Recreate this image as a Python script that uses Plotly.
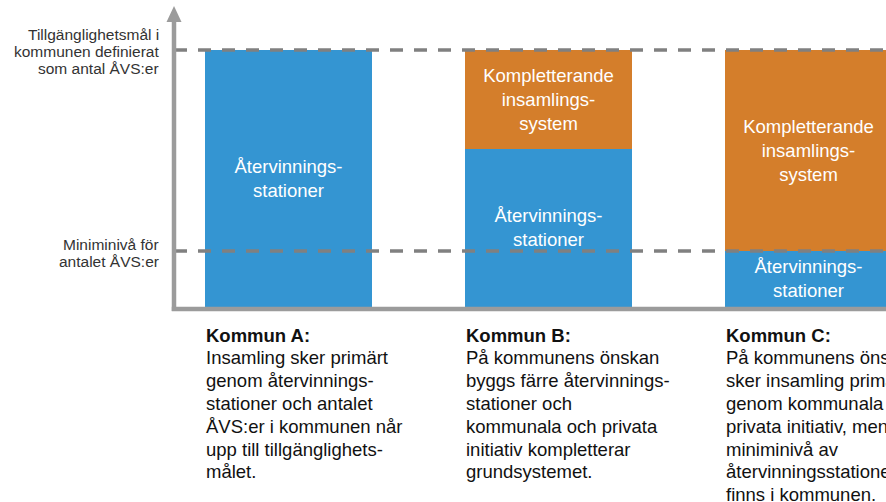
import plotly.graph_objects as go

W, H = 886, 502

# ---- data ----
kommuner = ["Kommun A", "Kommun B", "Kommun C"]
target_level = 100.0          # Tillgänglighetsmål
min_level = 21.6              # Miniminivå
avs_values = [100.0, 61.6, 21.6]        # Återvinningsstationer
komp_values = [0.0, 38.4, 78.4]         # Kompletterande insamlingssystem
avs_label = "Återvinnings-<br>stationer"
komp_label = "Kompletterande<br>insamlings-<br>system"
level_labels = [["Tillgänglighetsmål i", "kommunen definierat", "som antal ÅVS:er"],
                ["Miniminivå för", "antalet ÅVS:er"]]
descriptions = [
    ["<b>Kommun A:</b>", "Insamling sker primärt", "genom återvinnings-",
     "stationer och antalet", "ÅVS:er i kommunen når", "upp till tillgänglighets-", "målet."],
    ["<b>Kommun B:</b>", "På kommunens önskan", "byggs färre återvinnings-",
     "stationer och", "kommunala och privata", "initiativ kompletterar", "grundsystemet."],
    ["<b>Kommun C:</b>", "På kommunens önskan", "sker insamling primärt",
     "genom kommunala och", "privata initiativ, men en", "miniminivå av",
     "återvinningsstationer", "finns i kommunen."],
]

BLUE = "#3495D2"
ORANGE = "#D47E2B"
AXIS = "#9B9B9B"
DASH = "#808080"
FONT = "Liberation Sans, Arial, sans-serif"

xpos = list(range(len(kommuner)))
bar_w = 0.642

# layout geometry (pixels -> axis ranges)
px_per_slot = 260.0
x0_px = 288.5
zero_px, target_px = 306.5, 50.0
ppu = (zero_px - target_px) / target_level
x_range = [(0 - x0_px) / px_per_slot, (W - x0_px) / px_per_slot]
y_range = [-(H - zero_px) / ppu, zero_px / ppu]


def px_x(p):
    return p / W


def px_y(p):
    return 1 - p / H


def val_to_px(v):
    return zero_px - v * ppu


fig = go.Figure()
fig.add_trace(go.Bar(
    x=xpos, y=avs_values, width=bar_w, marker=dict(color=BLUE, line=dict(width=0)),
    text=[avs_label] * len(kommuner), textposition="inside", insidetextanchor="middle",
    textangle=0, constraintext="none",
    textfont=dict(color="white", size=18.5, family=FONT), hoverinfo="skip",
))
fig.add_trace(go.Bar(
    x=xpos, y=komp_values, width=bar_w, marker=dict(color=ORANGE, line=dict(width=0)),
    text=[komp_label if v > 0 else "" for v in komp_values], textposition="inside",
    insidetextanchor="middle", textangle=0, constraintext="none",
    textfont=dict(color="white", size=18.5, family=FONT), hoverinfo="skip",
))

axis_x_px = 174
axis_y_px = 309
shapes = []
# dashed level lines
for lvl in [target_level, min_level]:
    shapes.append(dict(type="line", xref="paper", yref="y", x0=px_x(axis_x_px), x1=1,
                       y0=lvl, y1=lvl, line=dict(color=DASH, width=3.5, dash="13px,11px"),
                       layer="above"))
# y axis with arrow
shapes.append(dict(type="line", xref="paper", yref="paper", x0=px_x(axis_x_px), x1=px_x(axis_x_px),
                   y0=px_y(axis_y_px + 2), y1=px_y(18), line=dict(color=AXIS, width=4.5),
                   layer="above"))
shapes.append(dict(type="path", xref="paper", yref="paper",
                   path="M {} {} L {} {} L {} {} Z".format(
                       px_x(axis_x_px - 7.5), px_y(22), px_x(axis_x_px), px_y(6),
                       px_x(axis_x_px + 7.5), px_y(22)),
                   fillcolor=AXIS, line=dict(width=0), layer="above"))
# x axis
shapes.append(dict(type="line", xref="paper", yref="paper", x0=px_x(axis_x_px - 2.25), x1=1,
                   y0=px_y(axis_y_px), y1=px_y(axis_y_px), line=dict(color=AXIS, width=4.5),
                   layer="above"))

annotations = []
level_line_h = 17.0
for lines, lvl in zip(level_labels, [target_level, min_level]):
    center = val_to_px(lvl) + 1.5
    n = len(lines)
    for i, ln in enumerate(lines):
        ypx = center + (i - (n - 1) / 2) * level_line_h
        annotations.append(dict(text=ln, xref="paper", yref="paper", x=px_x(160), y=px_y(ypx),
                                xanchor="right", yanchor="middle", align="right", showarrow=False,
                                borderpad=0,
                                font=dict(size=15.5, color="#333333", family=FONT)))
desc_top = 335.0
desc_line_h = 22.8
for x, lines in zip(xpos, descriptions):
    for i, ln in enumerate(lines):
        annotations.append(dict(text=ln, xref="x", yref="paper", x=x - bar_w / 2,
                                y=px_y(desc_top + i * desc_line_h),
                                xanchor="left", yanchor="middle", align="left", showarrow=False,
                                borderpad=0, font=dict(size=18.5, color="#111111", family=FONT)))

fig.update_layout(
    width=W, height=H, barmode="stack", showlegend=False,
    margin=dict(l=0, r=0, t=0, b=0), paper_bgcolor="white", plot_bgcolor="white",
    xaxis=dict(range=x_range, visible=False, fixedrange=True),
    yaxis=dict(range=y_range, visible=False, fixedrange=True),
    shapes=shapes, annotations=annotations, font=dict(family=FONT),
    uniformtext=dict(mode=False),
)

fig.write_html("out.html", config={"displayModeBar": False},
               post_script="document.body.style.margin='0';document.body.style.overflow='hidden';")
